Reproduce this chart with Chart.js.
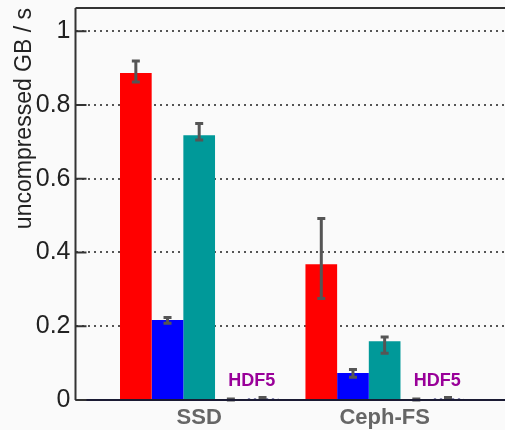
<!DOCTYPE html>
<html>
<head>
<meta charset="utf-8">
<script src="https://cdn.jsdelivr.net/npm/chart.js@4.4.1/dist/chart.umd.min.js"></script>
<style>
  html, body { margin: 0; padding: 0; background: #fafafa; overflow: hidden; }
  #wrap { position: relative; width: 505px; height: 430px; }
</style>
</head>
<body>
<div id="wrap"><canvas id="c" width="505" height="430"></canvas></div>
<script>
// ---- data ----
const categories = ['SSD', 'Ceph-FS'];
const yTickValues = [0, 0.2, 0.4, 0.6, 0.8, 1];
const seriesA = [0.887, 0.368];          // red
const seriesA_lo = [0.862, 0.275];
const seriesA_hi = [0.919, 0.492];
const seriesB = [0.217, 0.073];          // blue
const seriesB_lo = [0.208, 0.062];
const seriesB_hi = [0.224, 0.083];
const seriesC = [0.718, 0.159];          // teal
const seriesC_lo = [0.705, 0.127];
const seriesC_hi = [0.750, 0.171];
const seriesD = [0.002, 0.002];          // HDF5 (magenta)
const seriesD_lo = [0.000, 0.000];
const seriesD_hi = [0.003, 0.003];
const seriesE = [0.004, 0.004];          // HDF5 (hatched)
const seriesE_lo = [0.002, 0.002];
const seriesE_hi = [0.007, 0.007];
const groupLabel = 'HDF5';

// hatch pattern for series E
function makePattern() {
  const p = document.createElement('canvas');
  p.width = 6; p.height = 4;
  const g = p.getContext('2d');
  g.fillStyle = '#fafafa'; g.fillRect(0, 0, 6, 4);
  g.fillStyle = '#1a1a66';
  g.beginPath(); g.arc(3, 2, 1.3, 0, Math.PI * 2); g.fill();
  return g.createPattern(p, 'repeat');
}

function pts(arr) { return arr.map((v, i) => ({ x: i, y: v })); }

const series = [
  { data: seriesA, lo: seriesA_lo, hi: seriesA_hi, color: '#ff0000' },
  { data: seriesB, lo: seriesB_lo, hi: seriesB_hi, color: '#0000ff' },
  { data: seriesC, lo: seriesC_lo, hi: seriesC_hi, color: '#009999' },
  { data: seriesD, lo: seriesD_lo, hi: seriesD_hi, color: '#cc00cc' },
  { data: seriesE, lo: seriesE_lo, hi: seriesE_hi, color: makePattern() },
];

const FONT = "'Liberation Sans', Arial, sans-serif";
const AXIS_LEFT = 75.5;

function isMajor(v) { return yTickValues.some(t => Math.abs(t - v) < 1e-6); }

const framePlugin = {
  id: 'frame',
  afterDatasetsDraw(chart) {
    const ctx = chart.ctx;
    const ca = chart.chartArea;
    const y = chart.scales.y;
    // error bars
    ctx.save();
    ctx.strokeStyle = '#555555';
    ctx.lineWidth = 3;
    chart.data.datasets.forEach((ds, di) => {
      const meta = chart.getDatasetMeta(di);
      meta.data.forEach((bar, i) => {
        const s = series[di];
        const yl = y.getPixelForValue(s.lo[i]);
        const yh = y.getPixelForValue(s.hi[i]);
        const cx = bar.x;
        ctx.beginPath();
        ctx.moveTo(cx, yl); ctx.lineTo(cx, yh);
        ctx.moveTo(cx - 4, yl); ctx.lineTo(cx + 4, yl);
        ctx.moveTo(cx - 4, yh); ctx.lineTo(cx + 4, yh);
        ctx.stroke();
      });
    });
    ctx.restore();

    // group labels (HDF5)
    ctx.save();
    ctx.fillStyle = '#990099';
    ctx.font = 'bold 18px ' + FONT;
    ctx.textAlign = 'center';
    ctx.textBaseline = 'middle';
    const m3 = chart.getDatasetMeta(3), m4 = chart.getDatasetMeta(4);
    categories.forEach((c, i) => {
      const cx = (m3.data[i].x + m4.data[i].x) / 2 + 5;
      ctx.fillText(groupLabel, cx, y.getPixelForValue(0.052));
    });
    ctx.restore();

    // frame: top line, left axis, bottom axis, inward ticks
    ctx.save();
    ctx.strokeStyle = '#333333';
    ctx.lineWidth = 2;
    ctx.beginPath();
    ctx.moveTo(ca.left, ca.top); ctx.lineTo(ca.right, ca.top);
    ctx.moveTo(ca.left, ca.top); ctx.lineTo(ca.left, ca.bottom);
    ctx.stroke();
    ctx.strokeStyle = '#1a1a33';
    ctx.beginPath();
    ctx.moveTo(ca.left, ca.bottom); ctx.lineTo(ca.right, ca.bottom);
    ctx.stroke();
    ctx.strokeStyle = '#333333';
    ctx.lineWidth = 2;
    y.ticks.forEach(t => {
      if (t.value > 1.0501) return;
      const py = y.getPixelForValue(t.value);
      ctx.beginPath();
      ctx.moveTo(ca.left, py);
      ctx.lineTo(ca.left + (isMajor(t.value) ? 11 : 6), py);
      ctx.stroke();
    });
    ctx.restore();
  }
};

new Chart(document.getElementById('c'), {
  type: 'bar',
  data: {
    datasets: series.map((s, i) => ({
      label: 's' + i,
      data: pts(s.data),
      backgroundColor: s.color,
      borderWidth: 0,
      categoryPercentage: 0.854,
      barPercentage: 1.0,
    }))
  },
  options: {
    responsive: false,
    animation: false,
    layout: { padding: { top: 8, right: 0, bottom: 0, left: 0 } },
    plugins: { legend: { display: false }, tooltip: { enabled: false } },
    scales: {
      x: {
        type: 'linear',
        offset: false,
        min: -0.667,
        max: 1.649,
        grid: { display: false, drawTicks: false, offset: false },
        border: { display: false },
        afterBuildTicks(axis) { axis.ticks = categories.map((_, i) => ({ value: i })); },
        afterFit(axis) { axis.height = 30; axis.paddingLeft = 0; axis.paddingRight = 0; },
        ticks: {
          autoSkip: false,
          maxRotation: 0,
          padding: 5,
          color: '#666666',
          font: { family: FONT, size: 22, weight: 'bold' },
          callback: (v) => categories[v] !== undefined ? categories[v] : '',
        },
      },
      y: {
        min: 0,
        max: 1.063,
        afterFit(axis) { axis.width = AXIS_LEFT; axis.paddingTop = 0; },
        border: { display: false, dash: [2, 4] },
        grid: {
          drawTicks: false,
          lineWidth: 2,
          color: (ctx) => {
            const v = ctx.tick ? ctx.tick.value : 0;
            return (v > 0 && isMajor(v)) ? '#555555' : 'rgba(0,0,0,0)';
          },
        },
        ticks: {
          stepSize: 0.05,
          padding: 5,
          color: '#222222',
          font: { family: FONT, size: 25 },
          callback: (v) => {
            const m = yTickValues.find(t => Math.abs(t - v) < 1e-6);
            return m !== undefined ? String(m) : null;
          },
        },
        title: {
          display: true,
          align: 'end',
          text: 'uncompressed GB / s',
          color: '#222222',
          font: { family: FONT, size: 23 },
          padding: { top: 11, bottom: 0 },
        },
      },
    },
  },
  plugins: [framePlugin],
});
</script>
</body>
</html>
